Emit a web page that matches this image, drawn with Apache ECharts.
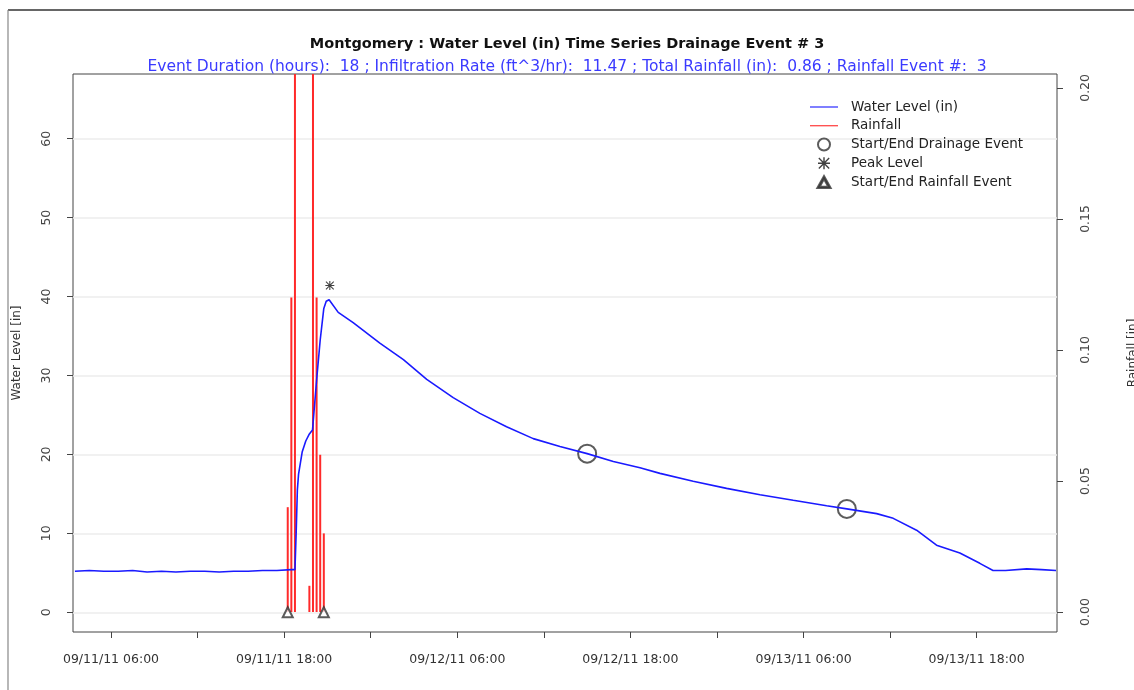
<!DOCTYPE html>
<html>
<head>
<meta charset="utf-8">
<script src="https://cdn.jsdelivr.net/npm/echarts@6/dist/echarts.min.js"></script>
<style>
html,body{margin:0;padding:0;background:#fff;}
#chart{width:1134px;height:690px;}
</style>
</head>
<body>
<div id="chart"></div>
<script>
// ---------- DATA ----------
const titleText = 'Montgomery : Water Level (in) Time Series Drainage Event # 3';
const subtitleText = 'Event Duration (hours):  18 ; Infiltration Rate (ft^3/hr):  11.47 ; Total Rainfall (in):  0.86 ; Rainfall Event #:  3';

const waterTimes = [
  '2011-09-11 03:30','2011-09-11 04:30','2011-09-11 05:30','2011-09-11 06:30','2011-09-11 07:30',
  '2011-09-11 08:30','2011-09-11 09:30','2011-09-11 10:30','2011-09-11 11:30','2011-09-11 12:30',
  '2011-09-11 13:30','2011-09-11 14:30','2011-09-11 15:30','2011-09-11 16:30','2011-09-11 17:30',
  '2011-09-11 18:30','2011-09-11 18:45','2011-09-11 18:50','2011-09-11 18:55','2011-09-11 19:00',
  '2011-09-11 19:15','2011-09-11 19:30','2011-09-11 19:45','2011-09-11 19:58','2011-09-11 20:15',
  '2011-09-11 20:30','2011-09-11 20:45','2011-09-11 20:55','2011-09-11 21:07','2011-09-11 21:45',
  '2011-09-11 22:47','2011-09-12 00:38','2011-09-12 02:16','2011-09-12 03:53','2011-09-12 05:43',
  '2011-09-12 07:34','2011-09-12 09:25','2011-09-12 11:16','2011-09-12 13:07','2011-09-12 15:00',
  '2011-09-12 16:49','2011-09-12 18:40','2011-09-12 20:03','2011-09-12 22:21','2011-09-13 00:40',
  '2011-09-13 02:59','2011-09-13 05:17','2011-09-13 07:36','2011-09-13 09:00','2011-09-13 11:04',
  '2011-09-13 12:13','2011-09-13 13:50','2011-09-13 15:13','2011-09-13 16:50','2011-09-13 18:13',
  '2011-09-13 19:08','2011-09-13 20:00','2011-09-13 21:28','2011-09-13 22:30','2011-09-13 23:30'
];
const waterLevel = [
  5.2,5.3,5.2,5.2,5.3,
  5.1,5.2,5.1,5.2,5.2,
  5.1,5.2,5.2,5.3,5.3,
  5.4,5.4,10.0,15.5,17.5,
  20.3,21.7,22.6,23.1,29.4,
  34.5,38.5,39.4,39.6,38.0,
  36.7,34.1,32.0,29.5,27.2,
  25.2,23.5,22.0,21.0,20.1,
  19.1,18.3,17.6,16.6,15.7,
  14.9,14.2,13.5,13.1,12.5,
  11.9,10.4,8.5,7.5,6.2,
  5.3,5.3,5.5,5.4,5.3
];

const rainTimes = [
  '2011-09-11 18:15','2011-09-11 18:30','2011-09-11 18:45','2011-09-11 19:00','2011-09-11 19:15',
  '2011-09-11 19:30','2011-09-11 19:45','2011-09-11 20:00','2011-09-11 20:15','2011-09-11 20:30',
  '2011-09-11 20:45'
];
const rainfall = [0.04,0.12,0.24,0,0,0,0.01,0.24,0.12,0.06,0.03];

const drainTimes = ['2011-09-12 15:00','2011-09-13 09:00'];
const drainLevels = [20.1,13.1];
const peakTimes = ['2011-09-11 21:10'];
const peakLevels = [41.4];
const rainEventTimes = ['2011-09-11 18:15','2011-09-11 20:45'];
const rainEventLevels = [0,0];

const xTickTimes = [
  '2011-09-11 06:00','2011-09-11 12:00','2011-09-11 18:00','2011-09-12 00:00',
  '2011-09-12 06:00','2011-09-12 12:00','2011-09-12 18:00','2011-09-13 00:00',
  '2011-09-13 06:00','2011-09-13 12:00','2011-09-13 18:00'
];
const xLabelTimes = [
  '2011-09-11 06:00','2011-09-11 18:00','2011-09-12 06:00',
  '2011-09-12 18:00','2011-09-13 06:00','2011-09-13 18:00'
];
const xRange = ['2011-09-11 03:22','2011-09-13 23:34'];
const yLeftTicks = [0,10,20,30,40,50,60];
const yRightTicks = [0,0.05,0.10,0.15,0.20];

// ---------- HELPERS ----------
function t(s){
  const m = s.match(/(\d+)-(\d+)-(\d+) (\d+):(\d+)/);
  return new Date(+m[1], +m[2]-1, +m[3], +m[4], +m[5]).getTime();
}
function pad(n){return (n<10?'0':'')+n;}
function fmt(v){
  const d = new Date(v);
  return pad(d.getMonth()+1)+'/'+pad(d.getDate())+'/'+pad(d.getFullYear()%100)+' '+pad(d.getHours())+':'+pad(d.getMinutes());
}
function zip(ts, vs){ return ts.map((s,i)=>[t(s), vs[i]]); }

const FONT = 'DejaVu Sans, Liberation Sans, sans-serif';
const asterisk = 'path://M4.4,0 H5.6 V10 H4.4 Z M0,4.4 H10 V5.6 H0 Z M1.1,0.3 L9.7,8.9 L8.9,9.7 L0.3,1.1 Z M8.9,0.3 L9.7,1.1 L1.1,9.7 L0.3,8.9 Z';
const triIcon = 'path://M5,0 L10,9 L0,9 Z M5,2.3 L1.8,8.1 L8.2,8.1 Z';
const lineIcon = 'path://M0,0 H40 V1.6 H0 Z';

const chart = echarts.init(document.getElementById('chart'), null, {renderer:'canvas'});
chart.setOption({
  animation:false,
  backgroundColor:'#fff',
  textStyle:{fontFamily:FONT},
  title:[
    {text:titleText, left:'center', top:37, padding:0,
     textStyle:{fontSize:14.5, fontWeight:'bold', color:'#111', fontFamily:FONT}},
    {text:subtitleText, left:'center', top:59, padding:0,
     textStyle:{fontSize:15.5, fontWeight:'normal', color:'#3a3aff', fontFamily:FONT}}
  ],
  graphic:[
    {type:'line', shape:{x1:8,y1:10,x2:1134,y2:10}, style:{stroke:'#333',lineWidth:1.5}, silent:true},
    {type:'line', shape:{x1:8,y1:10,x2:8,y2:690}, style:{stroke:'#888',lineWidth:1.2}, silent:true}
  ],
  legend:{
    orient:'vertical', left:810, top:100, padding:0,
    itemWidth:28, itemHeight:12, itemGap:4.75,
    textStyle:{fontSize:13.5, color:'#222', fontFamily:FONT, lineHeight:13, padding:[0,0,0,8]},
    data:[
      {name:'Water Level (in)', icon:lineIcon},
      {name:'Rainfall', icon:lineIcon},
      {name:'Start/End Drainage Event'},
      {name:'Peak Level'},
      {name:'Start/End Rainfall Event', icon:triIcon}
    ]
  },
  grid:{left:73, right:77, top:74, bottom:58, show:true, borderColor:'#444', borderWidth:1,
        containLabel:false, outerBoundsMode:'none'},
  xAxis:{
    type:'value', min:t(xRange[0]), max:t(xRange[1]),
    axisLine:{show:false, onZero:false},
    axisTick:{show:true, length:6, lineStyle:{color:'#444'}, customValues:xTickTimes.map(t)},
    axisLabel:{show:true, customValues:xLabelTimes.map(t), formatter:fmt, fontSize:12.5, color:'#333', margin:21, fontFamily:FONT},
    splitLine:{show:false}
  },
  yAxis:[
    {type:'value', min:-2.5, max:68.2, position:'left',
     name:'Water Level [in]', nameLocation:'middle', nameGap:50, nameRotate:90,
     nameTextStyle:{fontSize:12, color:'#333', fontFamily:FONT},
     axisLine:{show:false},
     axisTick:{show:true, length:6, lineStyle:{color:'#444'}, customValues:yLeftTicks},
     axisLabel:{show:true, rotate:90, customValues:yLeftTicks, fontSize:12.5, color:'#444', margin:20, fontFamily:FONT},
     splitLine:{show:true, lineStyle:{color:'#ececec', width:1.5}}
    },
    {type:'value', min:-0.00763, max:0.2053, position:'right',
     name:'Rainfall [in]', nameLocation:'middle', nameGap:70, nameRotate:90,
     nameTextStyle:{fontSize:12, color:'#333', fontFamily:FONT},
     axisLine:{show:false},
     axisTick:{show:true, length:6, lineStyle:{color:'#444'}, customValues:yRightTicks},
     axisLabel:{show:true, rotate:90, customValues:yRightTicks, formatter:v=>v.toFixed(2), fontSize:12.5, color:'#444', margin:22, fontFamily:FONT},
     splitLine:{show:false}
    }
  ],
  series:[
    {name:'Rainfall', type:'bar', yAxisIndex:1, barWidth:2, clip:true,
     itemStyle:{color:'#ff2a2a'}, data:zip(rainTimes, rainfall)},
    {name:'Water Level (in)', type:'line', yAxisIndex:0, symbol:'none', showSymbol:false,
     lineStyle:{color:'#1a1aff', width:1.6}, itemStyle:{color:'#1a1aff'}, data:zip(waterTimes, waterLevel)},
    {name:'Start/End Drainage Event', type:'scatter', yAxisIndex:0, symbol:'emptyCircle', symbolSize:18,
     itemStyle:{color:'#333', borderColor:'#333', borderWidth:1.4}, data:zip(drainTimes, drainLevels)},
    {name:'Peak Level', type:'scatter', yAxisIndex:0, symbol:asterisk, symbolSize:9,
     itemStyle:{color:'#111'}, data:zip(peakTimes, peakLevels)},
    {name:'Start/End Rainfall Event', type:'scatter', yAxisIndex:0, symbol:'emptyTriangle', symbolSize:10,
     itemStyle:{color:'#333', borderColor:'#333', borderWidth:1.2}, data:zip(rainEventTimes, rainEventLevels)}
  ]
});
</script>
</body>
</html>
